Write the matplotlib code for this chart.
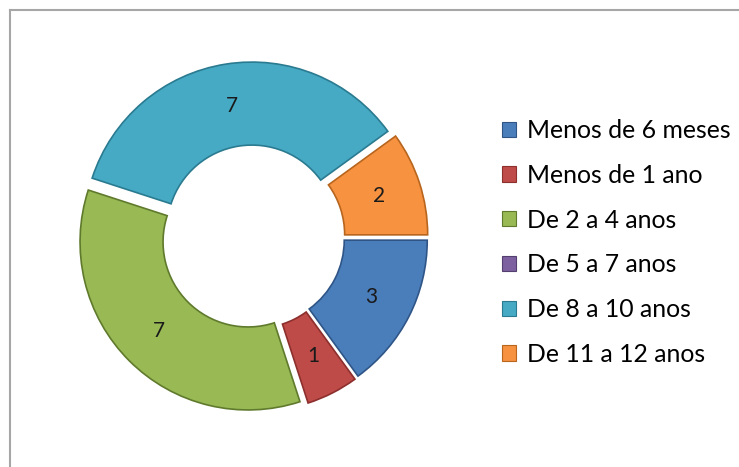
import matplotlib.pyplot as plt
from matplotlib.lines import Line2D
from matplotlib.patches import Patch

categories = ['Menos de 6 meses', 'Menos de 1 ano', 'De 2 a 4 anos',
              'De 5 a 7 anos', 'De 8 a 10 anos', 'De 11 a 12 anos']
values = [3, 1, 7, 0, 7, 2]
colors = ['#4a7ebb', '#be4b48', '#98b954', '#7d60a0', '#46aac5', '#f69240']
edges = ['#2f5587', '#8c2f2d', '#5f7a2c', '#54406f', '#2a7a90', '#b8651e']

W, H = 739, 467
plt.rcParams['font.family'] = ['Lato', 'DejaVu Sans']

fig = plt.figure(figsize=(W / 100, H / 100), dpi=100)
ax = fig.add_axes([0, 0, 1, 1])

# outer frame (only top and left edge visible)
fig.add_artist(Line2D([10 / W, 10 / W], [0, 1 - 10 / H], color='#a6a6a6', lw=1.5))
fig.add_artist(Line2D([10 / W, 1], [1 - 10 / H, 1 - 10 / H], color='#a6a6a6', lw=1.5))

R = 168
total = sum(values)
# explode is in data units here (axes are in pixels)
wedges, texts, autotexts = ax.pie(
    values, colors=colors, center=(253, H - 237), radius=R,
    startangle=0, counterclock=False, explode=[7] * len(values),
    wedgeprops=dict(width=83, linewidth=1.2),
    autopct=lambda p: f'{p * total / 100:.0f}' if p > 0 else '',
    pctdistance=0.75, textprops=dict(fontsize=15, color='#1a1a1a'))
for w, ec, v in zip(wedges, edges, values):
    w.set_edgecolor(ec)
    if v == 0:
        w.set_visible(False)

# pie() resets the limits, so set them afterwards
ax.set_xlim(0, W)
ax.set_ylim(0, H)
ax.set_aspect('equal')
ax.axis('off')

handles = [Patch(facecolor=c, edgecolor=e, lw=0.8) for c, e in zip(colors, edges)]
ax.legend(handles, categories, loc='upper left', bbox_to_anchor=(502 / W, 1 - 119 / H),
          frameon=False, fontsize=17.8, handlelength=0.58, handleheight=0.58,
          handletextpad=0.42, labelspacing=0.88, borderaxespad=0, borderpad=0)

fig.savefig('out.png', dpi=100)
